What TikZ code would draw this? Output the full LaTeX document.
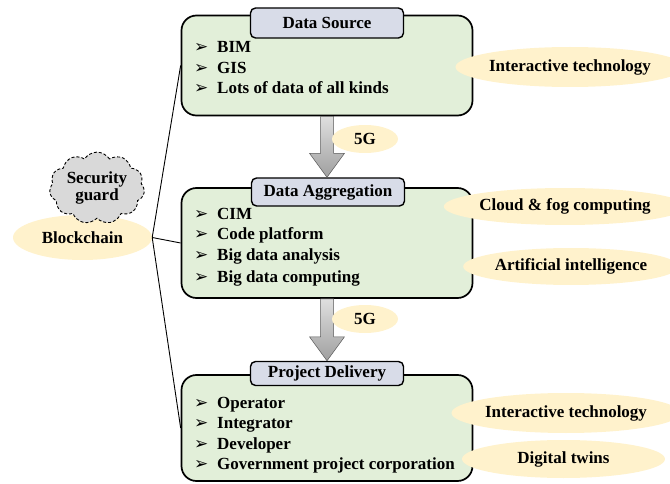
\documentclass[tikz,border=0pt]{standalone}
\usepackage{fontspec}
\setmainfont{Liberation Serif}
\newfontfamily\dejavu{DejaVu Sans}
\usetikzlibrary{shapes.geometric,shapes.symbols,calc}
\definecolor{boxgreen}{RGB}{226,239,217}
\definecolor{titlefill}{RGB}{216,220,232}
\definecolor{ellfill}{RGB}{255,242,204}
\definecolor{cloudfill}{RGB}{217,217,217}
\begin{document}
\begin{tikzpicture}[x=1pt,y=-1pt,
  every node/.style={font=\fontsize{17}{20}\selectfont\bfseries},
  mainbox/.style={draw=black,line width=1.7pt,fill=boxgreen,rounded corners=15pt,inner sep=0pt},
  titlebox/.style={draw=black,line width=1.4pt,fill=titlefill,rounded corners=5pt,inner sep=0pt},
  tech/.style={ellipse,fill=ellfill,inner sep=0pt},
  bul/.style={anchor=base west,inner sep=0pt,font=\dejavu\fontsize{17}{18}\selectfont},
  itemtext/.style={anchor=base west,inner sep=0pt},
  link/.style={draw=black,line width=0.9pt},
  barrow/.style={top color=gray!25,bottom color=gray!75,draw=gray!70!black,line width=0.5pt},
  guard/.style={cloud,cloud puffs=11,cloud puff arc=115,aspect=1.4,draw=black,dash pattern=on 3pt off 2pt,line width=0.9pt,fill=cloudfill,inner sep=0pt,align=center,font=\fontsize{17}{19}\selectfont\bfseries}
]
\useasboundingbox (0,0) rectangle (670,484);

% left side
\node[tech,minimum width=139pt,minimum height=45pt] (bc) at (82.5,237.5) {Blockchain};
\node[guard,minimum width=95pt,minimum height=67pt] (sg) at (97,188) {Security\\[-2pt]guard};

% boxes
\node[mainbox,minimum width=291pt,minimum height=100pt] (box1) at (327,65.5) {};
\node[mainbox,minimum width=291pt,minimum height=110pt] (box2) at (327,243) {};
\node[mainbox,minimum width=291pt,minimum height=106pt] (box3) at (327,428) {};

\node[titlebox,minimum width=153pt,minimum height=30pt] (t1) at (327,23) {Data Source};
\node[titlebox,minimum width=153pt,minimum height=28pt] (t2) at (328,192) {Data Aggregation};
\node[titlebox,minimum width=153pt,minimum height=24pt] (t3) at (327,373.5) {Project Delivery};

% block arrows
\path[barrow] let \p1=(box1.south), \p2=(t2.north) in
  (\x1-6.5pt,\y1) -- (\x1-6.5pt,\y2+24pt) -- (\x1-17.5pt,\y2+24pt) -- (\x1,\y2)
  -- (\x1+17.5pt,\y2+24pt) -- (\x1+6.5pt,\y2+24pt) -- (\x1+6.5pt,\y1) -- cycle;
\path[barrow] let \p1=(box2.south), \p2=(t3.north) in
  (\x1-6.5pt,\y1) -- (\x1-6.5pt,\y2+24pt) -- (\x1-17.5pt,\y2+24pt) -- (\x1,\y2)
  -- (\x1+17.5pt,\y2+24pt) -- (\x1+6.5pt,\y2+24pt) -- (\x1+6.5pt,\y1) -- cycle;

\node[tech,minimum width=66pt,minimum height=28pt] (g1) at (365,139) {5G};
\node[tech,minimum width=66pt,minimum height=28pt] (g2) at (365,319) {5G};

% items
\foreach \t [count=\i] in {BIM,GIS,Lots of data of all kinds} {
  \node[bul] (a\i b) at (194,{53+20.5*(\i-1)}) {➢};
  \node[itemtext] (a\i) at (217,{53+20.5*(\i-1)}) {\t};
}
\foreach \t [count=\i] in {CIM,Code platform,Big data analysis,Big data computing} {
  \node[bul] (c\i b) at (194,{219+21*(\i-1)}) {➢};
  \node[itemtext] (c\i) at (217,{219+21*(\i-1)}) {\t};
}
\foreach \t [count=\i] in {Operator,Integrator,Developer,Government project corporation} {
  \node[bul] (d\i b) at (194,{408+20.5*(\i-1)}) {➢};
  \node[itemtext] (d\i) at (217,{408+20.5*(\i-1)}) {\t};
}

% right ellipses
\node[tech,minimum width=196pt,minimum height=40pt] (e1) at (570,67) {Interactive technology};
\node[tech,minimum width=190pt,minimum height=37pt] (e2) at (565,206.5) {Cloud \& fog computing};
\node[tech,minimum width=192pt,minimum height=37pt] (e3) at (571,266.5) {Artificial intelligence};
\node[tech,minimum width=208pt,minimum height=40pt] (e4) at (566,413) {Interactive technology};
\node[tech,minimum width=203pt,minimum height=38pt] (e5) at (563.5,459) {Digital twins};

% links
\draw[link] (bc.east) -- (box1.west);
\draw[link] (bc.east) -- (box2.west);
\draw[link] (bc.east) -- (box3.west);
\end{tikzpicture}
\end{document}
